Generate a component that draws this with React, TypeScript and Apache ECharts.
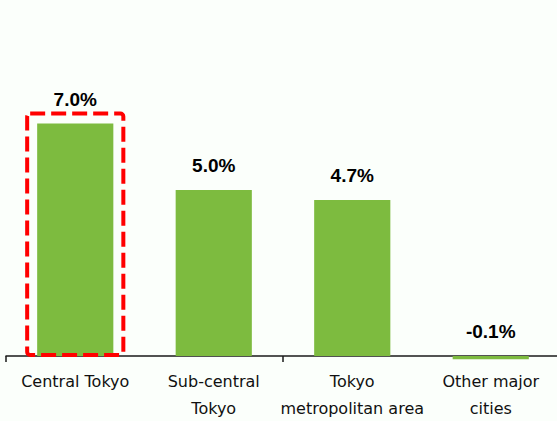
import React, { useEffect, useRef } from "react";
import * as echarts from "echarts";

const categories = ["Central Tokyo", "Sub-central\nTokyo", "Tokyo\nmetropolitan area", "Other major\ncities"];
const values = [7.0, 5.0, 4.7, -0.1];
const highlightIndex = 0;

export default function App() {
  const ref = useRef<HTMLDivElement>(null);
  useEffect(() => {
    if (!ref.current) return;
    const chart = echarts.init(ref.current, undefined, { renderer: "svg" });
    chart.setOption({
      animation: false,
      backgroundColor: "#fbfffb",
      grid: { left: 6, right: -3, top: 24, bottom: 65, containLabel: false, outerBoundsMode: "none" },
      xAxis: {
        type: "category",
        data: categories,
        axisLine: { onZero: false, lineStyle: { color: "#1a1a1a", width: 1.5 } },
        axisTick: {
          show: true,
          interval: (index: number) => index % 2 === 0,
          length: 6,
          lineStyle: { color: "#1a1a1a", width: 1.5 },
        },
        axisLabel: {
          interval: 0,
          color: "#111",
          fontSize: 16,
          fontFamily: "DejaVu Sans",
          lineHeight: 27,
          margin: 12,
        },
      },
      yAxis: { type: "value", min: 0, max: 10, show: false, splitLine: { show: false } },
      series: [
        {
          type: "bar",
          data: values,
          barWidth: "55%",
          clip: false,
          itemStyle: { color: "#7dbb3f" },
          label: {
            show: true,
            position: "top",
            distance: 15,
            fontSize: 19,
            fontWeight: "bold",
            fontFamily: "Liberation Sans, Arial, sans-serif",
            color: "#000",
            formatter: (p: any) => p.value.toFixed(1) + "%",
          },
        },
      ],
    });
    const c0 = chart.convertToPixel({ xAxisIndex: 0 }, 0) as number;
    const c1 = chart.convertToPixel({ xAxisIndex: 0 }, 1) as number;
    const band = c1 - c0;
    const top = chart.convertToPixel({ yAxisIndex: 0 }, values[highlightIndex]) as number;
    const zero = chart.convertToPixel({ yAxisIndex: 0 }, 0) as number;
    const cx = chart.convertToPixel({ xAxisIndex: 0 }, highlightIndex) as number;
    const half = (band * 0.55) / 2;
    const pad = 10;
    chart.setOption({
      graphic: [
        {
          type: "rect",
          shape: { x: cx - half - pad, y: top - pad, width: 2 * (half + pad), height: zero - 1 - (top - pad), r: 3 },
          style: { fill: "none", stroke: "#ff0000", lineWidth: 4, lineDash: [15, 6] },
          z: 10,
        },
      ],
    });
    return () => chart.dispose();
  }, []);
  return <div ref={ref} style={{ position: "absolute", left: 0, top: 0, width: 557, height: 421 }} />;
}
